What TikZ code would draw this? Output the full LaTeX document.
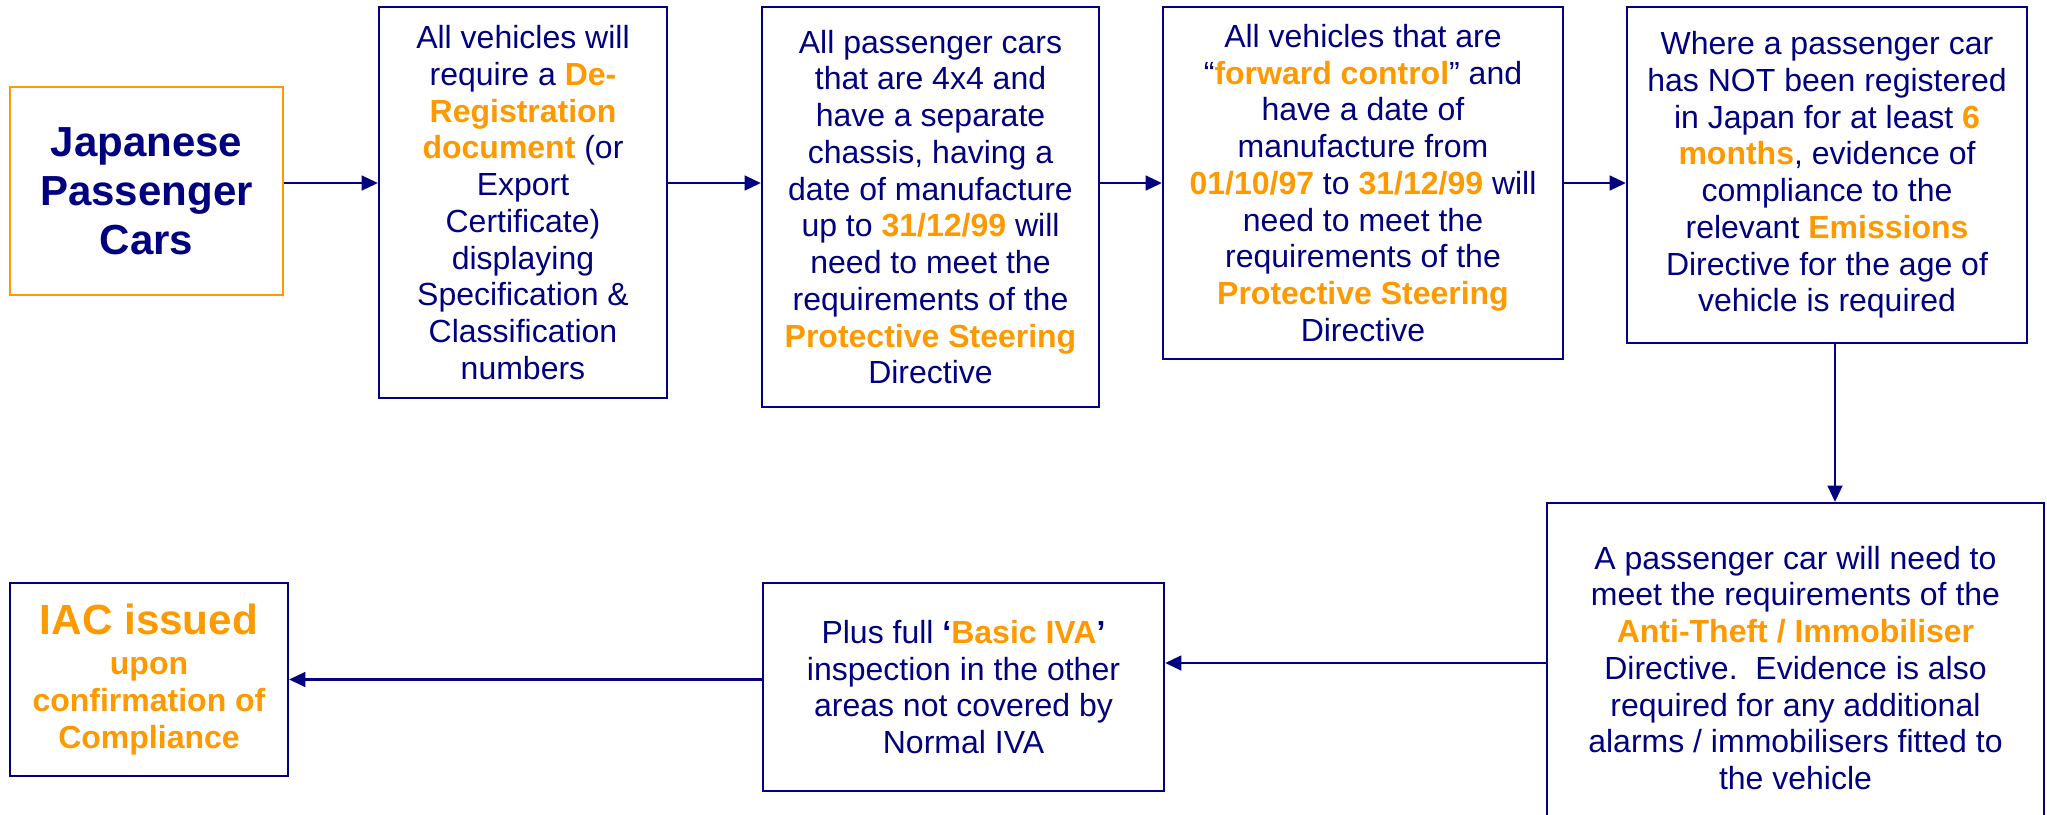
\documentclass[tikz,border=0pt]{standalone}
\usepackage{xcolor}
\usepackage{fontspec}
\setmainfont{Liberation Sans}
\usetikzlibrary{arrows.meta}

\definecolor{ivanavy}{HTML}{000080}
\definecolor{ivaorange}{HTML}{FF9900}
\newcommand{\hl}[1]{\textcolor{ivaorange}{\textbf{#1}}}

\tikzset{
  stepbox/.style={draw=ivanavy, line width=0.6pt, fill=white, text=ivanavy,
    align=center, inner sep=0pt, font=\fontsize{9.1}{10.45}\selectfont},
  startbox/.style={stepbox, draw=ivaorange},
  flowarr/.style={draw=ivanavy, line width=0.6pt, -{Triangle[length=4.6pt,width=4.2pt]}}
}

\begin{document}
\begin{tikzpicture}[x=0.01cm, y=-0.01cm]
        % Page frame
        \useasboundingbox (0,0) rectangle (2047,814);
        \clip (0,0) rectangle (2047,814);

        % Connector rows
        \coordinate (row) at (0,183);
        \coordinate (drop) at (1835,0);
        \coordinate (back) at (0,663);

        % Top row
        \node[startbox, minimum width=2.73cm, minimum height=2.08cm,
          font=\fontsize{11.95}{13.9}\selectfont\bfseries] (jpc) at (146.5,191)
          {Japanese\\Passenger\\Cars};
        \node[stepbox, minimum width=2.88cm, minimum height=3.91cm] (dereg) at (523,202.5)
          {All vehicles will\\require a \hl{De-}\\\hl{Registration}\\\hl{document} (or\\Export\\Certificate)\\displaying\\Specification \&\\Classification\\numbers};
        \node[stepbox, minimum width=3.37cm, minimum height=4.00cm] (fourx) at (930.5,207)
          {All passenger cars\\that are 4x4 and\\have a separate\\chassis, having a\\date of manufacture\\up to \hl{31/12/99} will\\need to meet the\\requirements of the\\\hl{Protective Steering}\\Directive};
        \node[stepbox, minimum width=4.00cm, minimum height=3.52cm] (fwd) at (1363,183)
          {All vehicles that are\\“\hl{forward control}” and\\have a date of\\manufacture from\\\hl{01/10/97} to \hl{31/12/99} will\\need to meet the\\requirements of the\\\hl{Protective Steering}\\Directive};
        \node[stepbox, minimum width=4.00cm, minimum height=3.36cm] (emis) at (1827,175)
          {Where a passenger car\\has NOT been registered\\in Japan for at least \hl{6}\\\hl{months}, evidence of\\compliance to the\\relevant \hl{Emissions}\\Directive for the age of\\vehicle is required};

        % Bottom row
        \node[stepbox, minimum width=4.97cm, minimum height=3.30cm] (theft) at (1795.5,668)
          {A passenger car will need to\\meet the requirements of the\\\hl{Anti-Theft / Immobiliser}\\Directive.\ \ Evidence is also\\required for any additional\\alarms / immobilisers fitted to\\the vehicle};
        \node[stepbox, minimum width=4.01cm, minimum height=2.08cm] (basic) at (963.5,687)
          {Plus full \textbf{‘}\hl{Basic IVA}\textbf{’}\\inspection in the other\\areas not covered by\\Normal IVA};
        \node[stepbox, minimum width=2.78cm, minimum height=1.93cm] (iac) at (149,679.5)
          {\textcolor{ivaorange}{\bfseries\fontsize{12}{12.8}\selectfont IAC issued}\\[1pt]\hl{upon}\\\hl{confirmation of}\\\hl{Compliance}};

        % Arrows
        \draw[flowarr] (jpc.east |- row) -- (dereg.west |- row);
        \draw[flowarr] (dereg.east |- row) -- (fourx.west |- row);
        \draw[flowarr] (fourx.east |- row) -- (fwd.west |- row);
        \draw[flowarr] (fwd.east |- row) -- (emis.west |- row);
        \draw[flowarr] (emis.south -| drop) -- (theft.north -| drop);
        \draw[flowarr] (theft.west |- back) -- (basic.east |- back);
        \draw[flowarr] (basic.west |- iac.east) -- (iac.east);
\end{tikzpicture}
\end{document}
